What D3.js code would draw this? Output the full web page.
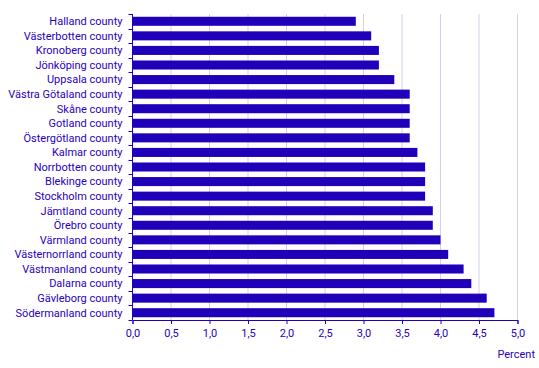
<!DOCTYPE html>
<html><head><meta charset="utf-8">
<script src="https://cdn.jsdelivr.net/npm/d3@7"></script>
<style>body{margin:0;background:#fff}text{font-family:Roboto,sans-serif}</style>
</head><body><svg id="c" width="539" height="368"></svg>
<script>
const categories = ["Halland county","Västerbotten county","Kronoberg county","Jönköping county","Uppsala county","Västra Götaland county","Skåne county","Gotland county","Östergötland county","Kalmar county","Norrbotten county","Blekinge county","Stockholm county","Jämtland county","Örebro county","Värmland county","Västernorrland county","Västmanland county","Dalarna county","Gävleborg county","Södermanland county"];
const values = [2.9,3.1,3.2,3.2,3.4,3.6,3.6,3.6,3.6,3.7,3.8,3.8,3.8,3.9,3.9,4.0,4.1,4.3,4.4,4.6,4.7];
const xTicks = [0,0.5,1,1.5,2,2.5,3,3.5,4,4.5,5];
const unitLabel = "Percent";

const svg = d3.select("#c");
const L = 132.5, R = 517.5, T = 14, B = 320;
const x = d3.scaleLinear().domain([0,5]).range([L,R]);
const y = d3.scaleBand().domain(categories).range([T,B]).paddingInner(0.38).paddingOuter(0.19);
const txt = "#2a00c0", axisCol = "#1e00c0", barCol = "#2000b8", grid = "#d4d0ec";

svg.append("g").selectAll("line").data(xTicks.slice(1)).join("line")
  .attr("x1",d=>x(d)).attr("x2",d=>x(d)).attr("y1",T).attr("y2",B)
  .attr("stroke",grid).attr("stroke-width",1);

svg.append("g").selectAll("rect").data(categories).join("rect")
  .attr("x",x(0)).attr("y",d=>y(d)).attr("height",y.bandwidth())
  .attr("width",(d,i)=>x(values[i])-x(0)).attr("fill",barCol);

const fmt = d => d3.format(".1f")(d).replace(".",",");
const gx = svg.append("g").attr("transform",`translate(0,${B})`)
  .call(d3.axisBottom(x).tickValues(xTicks).tickFormat(fmt).tickSize(4).tickPadding(5));
gx.select(".domain").attr("stroke",axisCol);
gx.selectAll(".tick line").attr("stroke",axisCol);
gx.selectAll("text").attr("fill",txt).style("font-size","11px").style("font-family","Roboto");

// y axis with ticks at band boundaries
const gy = svg.append("g").attr("transform",`translate(${L},0)`);
gy.append("line").attr("x1",0).attr("x2",0).attr("y1",T).attr("y2",B).attr("stroke",axisCol);
const bounds = categories.map(c=>y(c)-y.step()*y.paddingInner()/2);
bounds.push(B);
gy.selectAll("line.t").data(bounds).join("line").attr("class","t")
  .attr("x1",-4).attr("x2",0).attr("y1",d=>Math.round(d)+0.5).attr("y2",d=>Math.round(d)+0.5).attr("stroke",axisCol);
gy.selectAll("text").data(categories).join("text")
  .attr("x",-10).attr("y",d=>y(d)+y.bandwidth()/2).attr("dy","0.35em")
  .attr("text-anchor","end").attr("fill",txt).style("font-size","11px").text(d=>d);

svg.append("text").attr("x",535).attr("y",354).attr("dy","0.35em").attr("text-anchor","end")
  .attr("fill",txt).style("font-size","11px").text(unitLabel);
</script></body></html>
